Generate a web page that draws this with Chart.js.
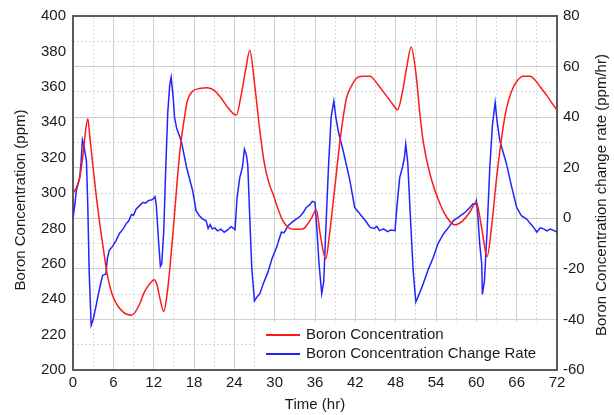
<!DOCTYPE html>
<html>
<head>
<meta charset="utf-8">
<script src="https://cdn.jsdelivr.net/npm/chart.js@4.4.0/dist/chart.umd.min.js"></script>
<style>
  body { margin: 0; background: #fff; }
</style>
</head>
<body>
<canvas id="chart" width="614" height="415"></canvas>
<script>
// boron concentration (ppm), left axis
const concTimes = [0, 0.5, 1.0, 1.5, 1.8, 2.2, 2.5, 3.0, 3.5, 4.0, 4.5, 5.0, 5.5, 6.0, 6.7, 7.4, 8.0, 8.7, 9.3, 10.0,
  10.5, 11.0, 11.6, 12.1, 12.5, 12.9, 13.5, 14.0, 14.4, 15.0, 15.5, 16.0, 16.6, 17.0, 17.8, 18.8, 20.0, 21.0, 22.0, 23.0,
  24.3, 25.0, 25.7, 26.3, 27.0, 27.8, 28.5, 29.2, 29.8, 30.5, 31.2, 32.0, 33.0, 34.2, 35.0, 35.5, 36.2, 36.8, 37.6, 38.2,
  39.0, 39.7, 40.2, 40.7, 41.5, 42.2, 43.0, 44.2, 45.0, 45.6, 46.6, 47.6, 48.3, 49.0, 49.6, 50.3, 51.0, 51.6, 52.1, 53.1,
  54.6, 55.6, 56.8, 58.0, 59.0, 60.0, 60.8, 61.6, 62.3, 63.0, 63.9, 64.5, 65.2, 66.0, 67.0, 68.0, 68.7, 69.5, 70.5, 71.3, 72];
const concValues = [300, 303, 309, 322, 333, 342, 332, 314, 297, 282, 269, 256, 247, 241, 236, 233, 231.5, 231, 233, 238,
  243, 246.5, 249.6, 251, 248, 241, 233, 243, 257, 283, 307, 327, 343, 352, 357.5, 359, 359.5, 358, 353.8, 348.5,
  344, 355, 370, 380.5, 362, 335, 316, 305, 299, 291, 284.5, 280.5, 279.5, 279.7, 283, 286, 290.5, 276, 262.8, 278,
  305, 329, 343, 353.8, 361, 365, 366, 366, 363, 360, 355, 350, 347, 357, 370, 382.5, 368, 345, 329, 310.7,
  293.8, 286.3, 282, 284.4, 289, 294.7, 280, 264.1, 282, 308, 335, 348, 357, 363, 366, 366, 364, 360, 355, 350.5, 347];

// change rate (ppm/hr), right axis
const rateTimes = [0, 0.3, 0.5, 1.0, 1.2, 1.4, 1.6, 2.0, 2.2, 2.4, 2.7, 3.0, 3.4, 3.7, 4.1, 4.4, 4.9, 5.1, 5.4, 5.9,
  6.4, 6.9, 7.4, 7.9, 8.3, 8.7, 9.0, 9.4, 9.9, 10.4, 10.8, 11.2, 11.6, 11.9, 12.2, 12.4, 12.7, 13.0, 13.2, 13.5,
  13.8, 14.1, 14.4, 14.6, 14.9, 15.1, 15.4, 16.1, 16.9, 17.8, 18.3, 18.8, 19.3, 19.8, 20.1, 20.4, 20.7, 21.1, 21.5, 22.0,
  22.5, 23.0, 23.5, 23.8, 24.1, 24.4, 24.8, 25.2, 25.5, 25.8, 26.0, 26.3, 26.6, 27.0, 27.4, 27.8, 28.3, 29.0, 29.6, 30.3,
  30.7, 31.0, 31.4, 32.0, 32.6, 33.2, 33.8, 34.3, 34.7, 35.2, 35.6, 36.0, 36.3, 36.6, 37.0, 37.3, 37.6, 38.0, 38.4, 38.8,
  39.1, 39.5, 40.2, 41.2, 41.9, 42.9, 43.5, 44.2, 44.8, 45.2, 45.6, 46.2, 46.8, 47.3, 47.9, 48.2, 48.6, 49.0, 49.3, 49.5,
  49.8, 50.2, 50.6, 51.0, 51.5, 52.1, 52.8, 53.6, 54.3, 55.1, 55.9, 56.6, 57.2, 58.0, 58.5, 59.0, 59.5, 59.8, 60.0, 60.2,
  60.5, 60.8, 60.9, 61.2, 61.6, 62.0, 62.4, 62.8, 63.1, 63.5, 64.0, 64.5, 65.2, 66.0, 66.7, 67.5, 68.0, 68.5, 69.0, 69.5,
  70.0, 70.5, 71.0, 71.5, 72.0];
const rateValues = [0, 6, 11, 16, 22, 31, 29, 22.7, 5, -20.6, -42.3, -40, -35, -31, -26, -22.6, -22, -16, -12.7, -11,
  -8.8, -6, -4.5, -2.2, -1, 1.5, 1.2, 3.7, 5, 6.3, 6.0, 7, 7.2, 7.6, 8.5, 5, -8, -19, -18, -5,
  20, 42, 53, 55.8, 48, 40, 35.8, 30.6, 20.1, 10.9, 3, 1.0, -0.3, -1, -4, -2.5, -4.2, -3.8, -5, -4.3,
  -5.5, -4.6, -3.3, -3.8, -4.5, 8, 16, 20, 27.3, 25, 21, 0, -20, -32.7, -31, -29.8, -25.9, -21.3, -16, -11.4,
  -8, -5.5, -5.7, -2.9, -1.5, -0.3, 0.8, 2.5, 4.3, 5.3, 6.7, 6.3, -5, -18, -29.8, -25, -5, 20, 40, 46.3,
  40, 34, 26.6, 14.8, 4.3, 1.0, -1, -3.6, -4, -3.2, -4.9, -4.2, -5.3, -4.6, -4.9, 5, 16.1, 20, 24, 29.3,
  22, 0, -20.6, -33.1, -30, -25.9, -20.6, -15.4, -10, -6.2, -3.5, -0.9, 0.2, 1.7, 2.8, 4.2, 5.7, 5.5, 7.0, 2,
  -10, -18, -30.1, -25, -5, 20, 37, 45.7, 38, 30.6, 26, 21.4, 13, 4.3, 1, -0.3, -2, -3.5, -5.5, -3.8,
  -4.2, -5, -4.3, -4.8, -5.5];

const concLabel = 'Boron Concentration';
const rateLabel = 'Boron Concentration Change Rate';
const leftTitle = 'Boron Concentration (ppm)';
const rightTitle = 'Boron Concentration change rate (ppm/hr)';
const xTitle = 'Time (hr)';

const FONT = "'Liberation Sans', Arial, sans-serif";
const frameColor = '#5a5a5a';
const gridColor = '#cfcfcf';
const minorColor = '#d8d8d8';

const pts = (xs, ys) => xs.map((x, i) => ({x: x, y: ys[i]}));

// legend box sitting inside the plot, bottom right
const legendBox = {
  id: 'legendBox',
  afterDatasetsDraw(chart) {
    const {ctx, chartArea: a} = chart;
    const w = 301, h = 47;
    const x0 = a.right - 1 - w, y0 = a.bottom - 1 - h;
    ctx.save();
    ctx.fillStyle = '#fff';
    ctx.fillRect(x0, y0, w, h);
    ctx.font = '15px ' + FONT;
    ctx.textBaseline = 'middle';
    chart.data.datasets.forEach((ds, i) => {
      const y = y0 + 13 + i * 19;
      ctx.strokeStyle = ds.borderColor;
      ctx.lineWidth = 2;
      ctx.beginPath();
      ctx.moveTo(x0 + 11, y);
      ctx.lineTo(x0 + 45, y);
      ctx.stroke();
      ctx.fillStyle = '#1a1a1a';
      ctx.fillText(ds.label, x0 + 51, y);
    });
    ctx.restore();
  }
};

// vertical axis titles, both reading bottom to top
const sideTitles = {
  id: 'sideTitles',
  afterDraw(chart) {
    const ctx = chart.ctx;
    ctx.save();
    ctx.font = '15px ' + FONT;
    ctx.fillStyle = '#1a1a1a';
    ctx.textAlign = 'center';
    ctx.textBaseline = 'middle';
    [[21, 200, leftTitle], [602, 195, rightTitle]].forEach(([x, y, t]) => {
      ctx.save();
      ctx.translate(x, y);
      ctx.rotate(-Math.PI / 2);
      ctx.fillText(t, 0, 0);
      ctx.restore();
    });
    ctx.restore();
  }
};

const ctx = document.getElementById('chart').getContext('2d');
new Chart(ctx, {
  type: 'line',
  data: {
    datasets: [
      {
        label: concLabel,
        data: pts(concTimes, concValues),
        borderColor: 'rgb(255,25,25)',
        borderWidth: 1.5,
        pointRadius: 0,
        cubicInterpolationMode: 'monotone',
        yAxisID: 'y'
      },
      {
        label: rateLabel,
        data: pts(rateTimes, rateValues),
        borderColor: 'rgb(35,35,255)',
        borderWidth: 1.5,
        pointRadius: 0,
        tension: 0,
        yAxisID: 'y1'
      }
    ]
  },
  options: {
    responsive: false,
    animation: false,
    layout: { padding: { top: 14 } },
    plugins: {
      legend: { display: false },
      tooltip: { enabled: false }
    },
    scales: {
      x: {
        type: 'linear',
        position: 'bottom',
        min: 0, max: 72,
        ticks: { stepSize: 6, padding: 4, color: '#1a1a1a', font: { family: FONT, size: 15 } },
        grid: { color: gridColor, lineWidth: 1, drawTicks: false },
        border: { color: frameColor, width: 2 },
        title: { display: true, text: xTitle, color: '#1a1a1a', font: { family: FONT, size: 15 }, padding: { top: 0, bottom: 1 } },
        afterFit(s) { s.height = 45; }
      },
      xMinor: {
        type: 'linear',
        position: 'top',
        min: 0, max: 72,
        ticks: { stepSize: 3, display: false },
        grid: {
          color: c => (c.tick && c.tick.value % 6 === 0) ? 'transparent' : minorColor,
          lineWidth: 1,
          drawTicks: false
        },
        border: { color: frameColor, width: 2, dash: [2, 2] },
        afterFit(s) { s.height = 0; }
      },
      y: {
        position: 'left',
        min: 200, max: 400,
        ticks: { stepSize: 20, padding: 7, color: '#1a1a1a', font: { family: FONT, size: 15 } },
        grid: { display: false, drawTicks: false },
        border: { color: frameColor, width: 2 },
        afterFit(s) { s.width = 73; }
      },
      y1: {
        position: 'right',
        min: -60, max: 80,
        ticks: { stepSize: 20, padding: 6, color: '#1a1a1a', font: { family: FONT, size: 15 } },
        grid: { color: gridColor, lineWidth: 1, drawTicks: false },
        border: { color: frameColor, width: 2 },
        afterFit(s) { s.width = 57; }
      },
      yMinor: {
        position: 'right',
        min: -60, max: 80,
        ticks: { stepSize: 10, display: false },
        grid: {
          color: c => (c.tick && c.tick.value % 20 === 0) ? 'transparent' : minorColor,
          lineWidth: 1,
          drawTicks: false
        },
        border: { display: false, dash: [2, 2] },
        afterFit(s) { s.width = 0; }
      }
    }
  },
  plugins: [legendBox, sideTitles]
});
</script>
</body>
</html>
